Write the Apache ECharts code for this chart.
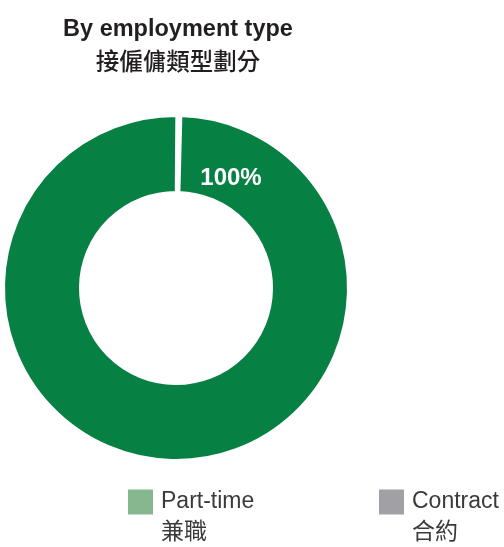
<!DOCTYPE html>
<html>
<head>
<meta charset="utf-8">
<script src="https://cdn.jsdelivr.net/npm/echarts@6/dist/echarts.min.js"></script>
<style>
html,body{margin:0;padding:0;background:#fff;}
#c{width:504px;height:547px;}
</style>
</head>
<body>
<div id="c"></div>
<script>
const titleEn = 'By employment type';
const titleZh = '接僱傭類型劃分';
const categories = ['Part-time', 'Contract'];
const categoriesZh = ['兼職', '合約'];
const values = [100, 0];
const sliceColors = ['#078044', '#a1a1a5'];
const legendColors = ['#87b78e', '#a1a1a5'];

const FONT = "'Liberation Sans', 'Noto Sans CJK TC', sans-serif";

const chart = echarts.init(document.getElementById('c'), null, {renderer: 'canvas'});

function legendFor(i, left) {
  return {
    data: [{name: categories[i], itemStyle: {color: legendColors[i], borderWidth: 0}}],
    left: left,
    top: 461,
    orient: 'horizontal',
    icon: 'rect',
    itemWidth: 25,
    itemHeight: 25,
    selectedMode: false,
    formatter: function (name) {
      return '{s| }\n{a|' + name + '}\n{b|' + categoriesZh[categories.indexOf(name)] + '}';
    },
    textStyle: {
      fontFamily: FONT,
      color: '#3a3a3a',
      rich: {
        s: {fontSize: 10, lineHeight: 36},
        a: {fontSize: 23, lineHeight: 26, fontFamily: FONT, color: '#3a3a3a', padding: [0, 0, 0, 3]},
        b: {fontSize: 23, lineHeight: 36, fontFamily: FONT, color: '#3a3a3a', padding: [0, 0, 0, 3]}
      }
    }
  };
}

const option = {
  backgroundColor: '#ffffff',
  animation: false,
  title: [
    {
      text: titleEn,
      left: 173,
      top: 13,
      textAlign: 'center',
      textStyle: {fontFamily: FONT, fontSize: 23.5, fontWeight: 'bold', color: '#231f20'}
    },
    {
      text: titleZh,
      left: 173,
      top: 47,
      textAlign: 'center',
      textStyle: {fontFamily: FONT, fontSize: 23.5, fontWeight: 500, color: '#231f20'}
    }
  ],
  legend: [legendFor(0, 123), legendFor(1, 374)],
  series: [{
    type: 'pie',
    center: [176, 288],
    radius: [95, 173],
    startAngle: 88.8,
    padAngle: 0.5,
    clockwise: true,
    avoidLabelOverlap: false,
    labelLine: {show: false},
    itemStyle: {borderColor: '#ffffff', borderWidth: 4},
    data: categories.map(function (c, i) {
      return {
        name: c,
        value: values[i],
        itemStyle: {color: sliceColors[i]},
        label: {show: values[i] > 0}
      };
    }),
    label: {
      position: 'inside',
      formatter: '{d}%',
      fontFamily: FONT,
      fontSize: 24,
      fontWeight: 'bold',
      color: '#ffffff'
    },
    labelLayout: function (params) {
      return {x: 231, y: 178, align: 'center', verticalAlign: 'middle'};
    }
  }]
};
chart.setOption(option);
</script>
</body>
</html>
